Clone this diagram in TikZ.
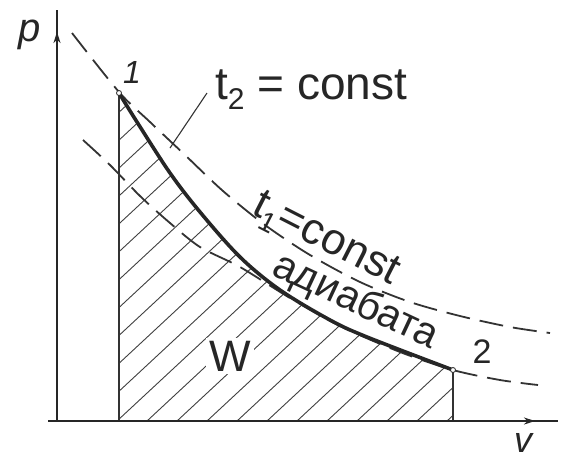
\documentclass[tikz,border=0pt]{standalone}
\usepackage{fontspec}
\setmainfont{Liberation Sans}
\usetikzlibrary{arrows.meta}
\newcommand\fsz[1]{\fontsize{#1}{#1}\selectfont}
\begin{document}
\begin{tikzpicture}[x=1pt,y=-1pt,
  axisline/.style={line width=2.6pt, draw=black!85},
  adiab/.style={line width=3.6pt, draw=black!85, line cap=round},
  iso/.style={line width=1.8pt, draw=black!80, dash pattern=on 24pt off 10pt},
  hatchline/.style={line width=0.9pt, draw=black!75},
  thinline/.style={line width=1.1pt, draw=black!80},
  lbl/.style={text=black!85, inner sep=0pt},
  ptmark/.style={circle, draw=black!85, fill=white, line width=0.8pt, inner sep=0pt, minimum size=5pt}]
\useasboundingbox[fill=white] (0,0) rectangle (561,459);

\coordinate (O) at (57,421);
\coordinate (ptop) at (57,10);
\coordinate (parr) at (57,32);
\coordinate (vleft) at (48,421);
\coordinate (vend) at (558,421);
\coordinate (varr) at (535,421);
\coordinate (P1) at (119,93);
\coordinate (P2) at (453,370);
\coordinate (F1) at (119,421);
\coordinate (F2) at (453,421);

% hatching
\begin{scope}
\clip (F1) -- plot[smooth,tension=0.55] coordinates {(119,93) (137,122) (170,173) (200,212) (240,257) (280,290) (330,320) (367,337) (453,370)} -- (F2) -- cycle;
\foreach \k in {-13,...,12} \draw[hatchline] ({117+30*\k},421) -- ++(400,-372);
\end{scope}

\draw[thinline] (P1) -- (F1);
\draw[thinline] (P2) -- (F2);

% axes
\draw[axisline] (O) -- (ptop);
\draw[axisline, -{Stealth[length=11pt,width=7pt]}] (O) -- (parr);
\draw[axisline] (vleft) -- (vend);
\draw[axisline, -{Stealth[length=11pt,width=7pt]}] (vleft) -- (varr);

% isotherms
\draw[iso] plot[smooth] coordinates {(72,33) (119,92) (150,122) (185,155) (223,191) (265,225) (310,255) (360,282) (410,302) (460,316) (510,327) (550,333)};
\draw[iso] plot[smooth] coordinates {(83,140) (110,165) (140,196) (170,223) (200,247) (240,267) (290,298) (340,326) (400,352) (453,370) (500,380) (538,385)};

% adiabat
\draw[adiab] plot[smooth,tension=0.55] coordinates {(119,93) (137,122) (170,173) (200,212) (240,257) (280,290) (330,320) (367,337) (453,370)};

\node[ptmark] (m1) at (P1) {};
\node[ptmark] (m2) at (P2) {};

% labels
\node[lbl, font=\fsz{40}\itshape] (plab) at (30,35) {p};
\node[lbl, font=\fsz{36}\itshape] (vlab) at (523,443) {v};
\node[lbl, font=\fsz{32}\itshape] (n1) at (132,72) {1};
\node[lbl, font=\fsz{34}] (n2) at (482,352) {2};
\node[lbl, font=\fsz{44}, fill=white, inner sep=3pt] (W) at (230,356) {W};
\node[lbl, font=\fsz{46}, anchor=base west] (t2) at (215,99) {t\raisebox{-0.22em}{\fsz{30}2} = const};
\node[lbl, font=\fsz{44}, anchor=base west, rotate=-27] (t1) at (250,213) {t\raisebox{-0.22em}{\fsz{28}1}=const};
\node[lbl, font=\fsz{41}, anchor=base west, rotate=-25] (ad) at (270,274) {адиабата};

% leader
\coordinate (L1) at (207,93);
\coordinate (L2) at (170,148);
\draw[thinline] (L1) -- (L2);
\end{tikzpicture}
\end{document}
